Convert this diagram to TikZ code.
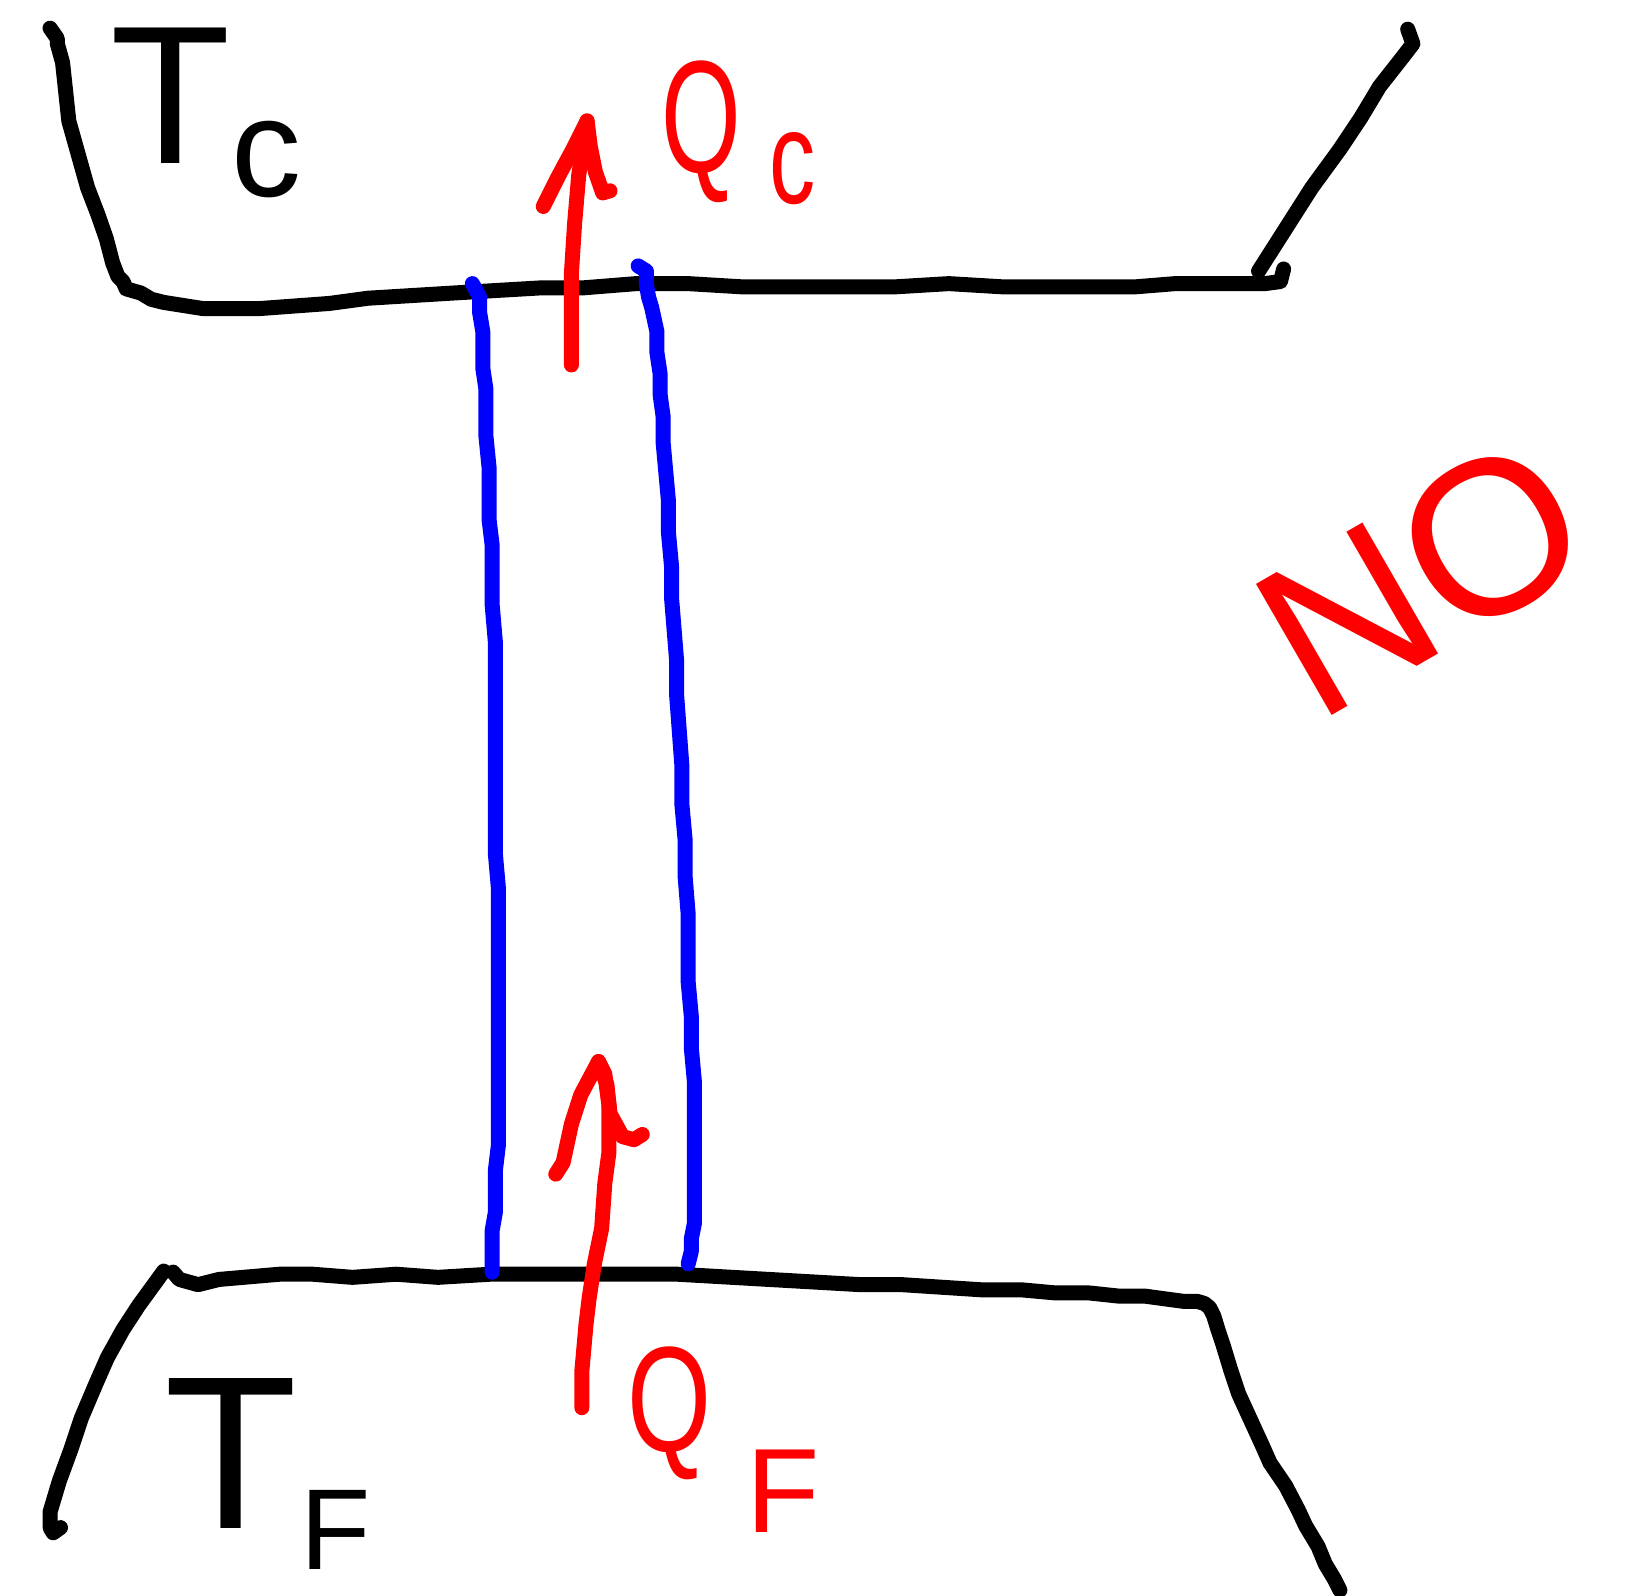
\documentclass[tikz,border=0pt]{standalone}
\usepackage{fontspec}
\setmainfont{Liberation Sans}
\usetikzlibrary{arrows.meta}
\definecolor{inkred}{RGB}{255,0,0}
\definecolor{inkblue}{RGB}{0,0,255}
\begin{document}
\begin{tikzpicture}[x=1.0427pt,y=-1.0427pt,
  inkstroke/.style={line width=15pt,line cap=round,line join=round},
  wall/.style={inkstroke,draw=black},
  column/.style={inkstroke,draw=inkblue},
  heat/.style={inkstroke,draw=inkred},
  lettering/.style={inner sep=0pt,anchor=base west,text depth=0pt}]
\useasboundingbox[fill=white] (0,0) rectangle (1568,1530);

% hot reservoir outline (top)
\draw[wall] (48,27) -- (55,37) -- (55,42) -- (60,60) -- (66,116) -- (75,148) -- (84,180) -- (94,206) -- (102,229) -- (108,252) -- (113,265) -- (118,270) -- (121,277) -- (135,281) -- (145,287) -- (157,290) -- (195,296) -- (248,296) -- (316,291) -- (353,286) -- (435,281) -- (520,276) -- (560,276) -- (610,272) -- (660,272) -- (710,275) -- (860,275) -- (910,272) -- (960,275) -- (1090,275) -- (1127,272) -- (1213,272) -- (1228,270) -- (1231,258);
\draw[wall] (1207,260) -- (1258,180) -- (1285,143) -- (1305,113) -- (1323,83) -- (1345,55) -- (1355,42) -- (1350,28);

% cold reservoir outline (bottom)
\draw[wall] (166,1220) -- (172,1227) -- (190,1232) -- (210,1227) -- (268,1222) -- (300,1222) -- (338,1225) -- (380,1222) -- (420,1225) -- (470,1222) -- (650,1222) -- (825,1232) -- (865,1232) -- (942,1237) -- (980,1237) -- (1013,1240) -- (1045,1240) -- (1073,1243) -- (1098,1243) -- (1120,1246) -- (1135,1248) -- (1148,1248) -- (1155,1250) -- (1160,1254) -- (1164,1262) -- (1168,1275) -- (1173,1290) -- (1180,1313) -- (1188,1337) -- (1210,1385) -- (1218,1403) -- (1233,1425) -- (1245,1448) -- (1252,1463) -- (1264,1483) -- (1271,1500) -- (1280,1515) -- (1285,1525);
\draw[wall] (157,1219) -- (133,1252) -- (118,1275) -- (103,1302) -- (92,1327) -- (78,1360) -- (68,1390) -- (57,1420) -- (48,1450) -- (48,1465) -- (51,1470) -- (58,1465);

% working column (blue)
\draw[column] (453,272) -- (460,285) -- (460,300) -- (463,318) -- (463,353) -- (466,373) -- (466,418) -- (469,448) -- (469,498) -- (472,523) -- (472,580) -- (475,615) -- (475,818) -- (478,852) -- (478,1098) -- (475,1123) -- (475,1163) -- (472,1180) -- (472,1220);
\draw[column] (612,255) -- (620,260) -- (620,273) -- (622,285) -- (625,295) -- (630,318) -- (630,338) -- (633,358) -- (633,378) -- (636,400) -- (636,425) -- (641,480) -- (641,510) -- (644,543) -- (644,573) -- (649,635) -- (649,668) -- (654,735) -- (654,772) -- (657,805) -- (657,840) -- (660,877) -- (660,942) -- (663,975) -- (663,1005) -- (666,1038) -- (666,1173) -- (663,1188) -- (663,1200) -- (660,1212);

% heat arrows (red)
\coordinate (qcfoot) at (548,350);
\coordinate (qchead) at (563,116);
\draw[heat] (qcfoot) -- (548,262) -- (551,215) -- (555,168) -- (qchead);
\draw[heat] (521,198) -- (535,170) -- (549,144) -- (qchead) -- (566,140) -- (571,165) -- (578,185) -- (585,183);
\coordinate (qffoot) at (558,1350);
\coordinate (qfhead) at (574,1018);
\draw[heat] (qffoot) -- (558,1315) -- (562,1270) -- (565,1245) -- (570,1212) -- (577,1178) -- (580,1135) -- (584,1105) -- (584,1060) -- (580,1030) -- (qfhead);
\draw[heat] (533,1126) -- (540,1115) -- (548,1078) -- (557,1050) -- (qfhead) -- (582,1040) -- (585,1068) -- (597,1090) -- (608,1093) -- (616,1088);

% labels
\node[lettering,text height=136pt,font=\fontsize{197}{197}\selectfont] (tcT) at (106,157) {T};
\node[lettering,text height=75pt,font=\fontsize{140}{140}\selectfont] (tcsub) at (222,188) {c};
\node[lettering,text=inkred,text height=114pt,text depth=12pt,font=\fontsize{160}{160}\selectfont] (qcQ) at (634,165) {\scalebox{0.64}[1]{Q}};
\node[lettering,text=inkred,text height=71pt,font=\fontsize{132}{132}\selectfont] (qcsub) at (738,195) {\scalebox{0.7}[1]{c}};
\node[inner sep=0pt,text=inkred,rotate=30,text height=158pt,text depth=0pt,font=\fontsize{220}{220}\selectfont] (no) at (1362,550) {NO};
\node[lettering,text=inkred,text height=107pt,text depth=11pt,font=\fontsize{150}{150}\selectfont] (qfQ) at (602,1392) {\scalebox{0.72}[1]{Q}};
\node[lettering,text=inkred,text height=83pt,font=\fontsize{120}{120}\selectfont] (qfsub) at (716,1470) {F};
\node[lettering,text height=150pt,font=\fontsize{218}{218}\selectfont] (tfT) at (158,1466) {T};
\node[lettering,text height=82pt,font=\fontsize{115}{115}\selectfont] (tfsub) at (288,1505) {F};
\end{tikzpicture}
\end{document}
